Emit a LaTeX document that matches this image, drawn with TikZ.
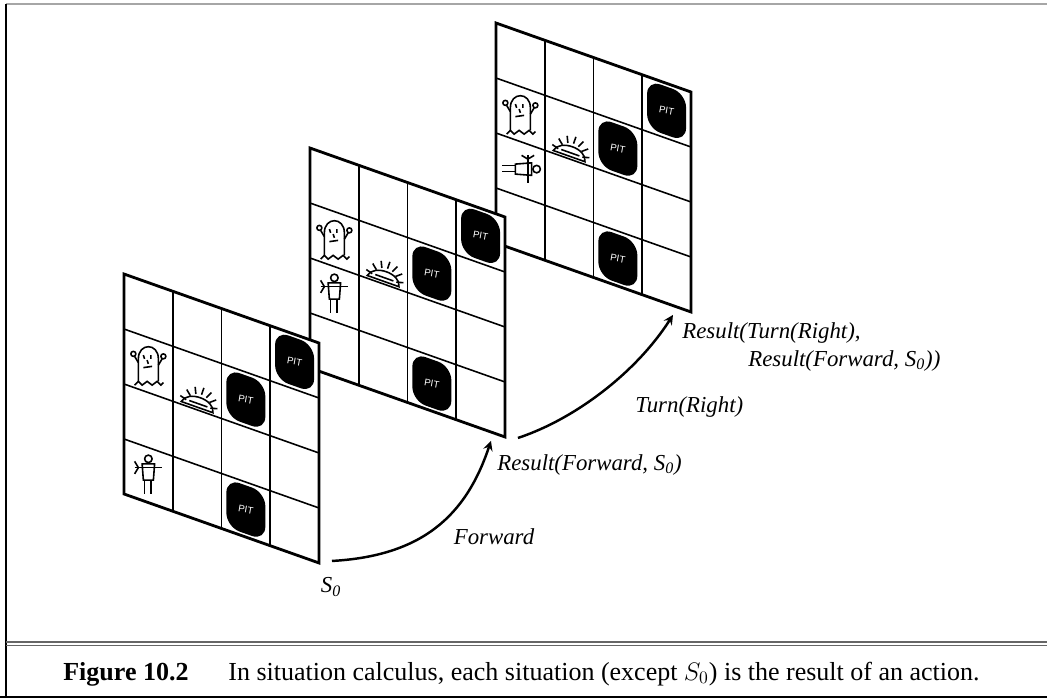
\documentclass[tikz,border=0pt]{standalone}
\usepackage{fontspec}
\setmainfont{Liberation Serif}
\setsansfont{Liberation Sans}
\usetikzlibrary{calc,arrows,positioning}
\newcommand{\szero}{\textit{S}\textsubscript{0}}
\newcommand{\pit}[2]{
  \fill[rounded corners=8pt] (#1+0.1,#2+0.06) -- (#1+0.9,#2+0.06)
    -- (#1+0.9,#2+0.94) -- (#1+0.1,#2+0.94) -- cycle;
  \node[pitlabel] (\gname-pit#1#2) at (#1+0.5,#2+0.5) {PIT};
}
\newcommand{\wumpus}[2]{
  \begin{scope}[shift={(#1+0.5,#2+0.5)},x=0.02cm,y=-0.02cm,scale=1.25,icon]
    \draw (-8,13) -- (-8,-5) .. controls (-8,-18) and (8,-18) .. (8,-5) -- (8,13);
    \draw (-8,-2) -- (-11,-7) (8,0) -- (11,-5);
    \draw (-12,-9) circle (2) (12,-7) circle (2);
    \draw (-4,-8) -- (-3,-5) (2,-8) -- (2,-5) (-4,2) -- (3,1) (-1,-4) -- (0,-1);
    \draw (-11,16) -- (-8,13) -- (-5,16) -- (-1,13) -- (3,16) -- (7,13) -- (10,16) -- (12,14);
  \end{scope}
}
\newcommand{\gold}[2]{
  \begin{scope}[shift={(#1,#2)},x=0.02cm,y=-0.02cm,rotate=-19.5,scale=1.2,icon]
    \draw (-14,0) .. controls (-12,-11) and (12,-11) .. (14,0) -- cycle;
    \draw (-8,-3) -- (8,-3);
    \foreach \a in {195,220,...,345} {
      \draw (\a:11) -- (\a:17);
    }
  \end{scope}
}
\newcommand{\agent}[3]{
  \begin{scope}[shift={(#1+0.5,#2+0.5)},x=0.02cm,y=-0.02cm,rotate=#3,scale=1.25,icon]
    \draw (0,-13) circle (3);
    \draw (-5,-9) -- (5,-9) -- (4,4) -- (-4,4) -- cycle;
    \draw (-3,4) -- (-3,15) (2,4) -- (2,15);
    \draw (-11,-6) -- (11,-6);
    \draw (-11,-11) -- (-8,-6) -- (-11,-1);
  \end{scope}
}
\newcommand{\board}[3]{
  \def\gname{#2}
  \begin{scope}[shift={#1},x={(0.975cm,-0.345cm)},y={(0cm,-1.1cm)}]
    \fill[white] (0,0) -- (4,0) -- (4,4) -- (0,4) -- cycle;
    \foreach \k in {1,2,3} {
      \draw[cell] (\k,0) -- (\k,4);
      \draw[cell] (0,\k) -- (4,\k);
    }
    \draw[border] (0,0) -- (4,0) -- (4,4) -- (0,4) -- cycle;
    \coordinate (#2-se) at (4,4);
    \pit{3}{0} \pit{2}{1} \pit{2}{3}
    \wumpus{0}{1}
    \gold{1.5}{1.95}
    #3
  \end{scope}
}

\begin{document}
\begin{tikzpicture}[x=0.02cm,y=-0.02cm,
    cell/.style={line width=0.9pt},
    border/.style={line width=1.6pt},
    icon/.style={line width=0.9pt},
    pitlabel/.style={text=white,font=\sffamily\fontsize{5.5}{6}\selectfont,rotate=-10,inner sep=0pt},
    lbl/.style={font=\fontsize{13}{15}\selectfont\itshape,inner sep=0pt},
    act/.style={->,>=stealth,line width=1.4pt}]
  \useasboundingbox (0,0) rectangle (1047,698);

  \draw[gray!70,line width=1.5pt] (6,4) -- (1047,4);
  \draw[line width=1.2pt] (6,4) -- (6,698);
  \draw[gray!80!black,line width=1pt] (6,642) -- (1047,642) (6,645.5) -- (1047,645.5);
  \draw[line width=1.5pt] (0,697) -- (1047,697);

  \board{(496,23)}{s2}{\agent{0}{2}{-90}}
  \board{(310,148)}{s1}{\agent{0}{2}{0}}
  \board{(124,274)}{s0}{\agent{0}{3}{0}}

  \node[lbl] (s0lbl) at (331,587) {\szero};
  \node[lbl] (fwd) at (494,537) {Forward};
  \node[lbl,anchor=west] (rf) at (497,465) {Result(Forward, \szero)};
  \node[lbl,anchor=west] (tr) at (635,407) {Turn(Right)};
  \node[lbl,anchor=west] (rt) at (682,333) {Result(Turn(Right),};
  \node[lbl,anchor=west] (rt2) at (748,361) {Result(Forward, \szero))};

  \draw[act] ([shift={(13,-2)}]s0-se) .. controls +(90,-5) and +(-25,75) .. ([shift={(-14,4)}]s1-se);
  \draw[act] ([shift={(13,1)}]s1-se) .. controls +(60,-20) and +(-35,55) .. ([shift={(-18,3)}]s2-se);

  \node[anchor=base west,inner sep=0pt,font=\fontsize{14.8}{16}\selectfont\bfseries] (fig) at (63,680) {Figure 10.2};
  \node[anchor=base west,inner sep=0pt,font=\fontsize{14.8}{16}\selectfont] (cap) at (228,680)
    {In situation calculus, each situation (except $S_0$) is the result of an action.};
\end{tikzpicture}
\end{document}
